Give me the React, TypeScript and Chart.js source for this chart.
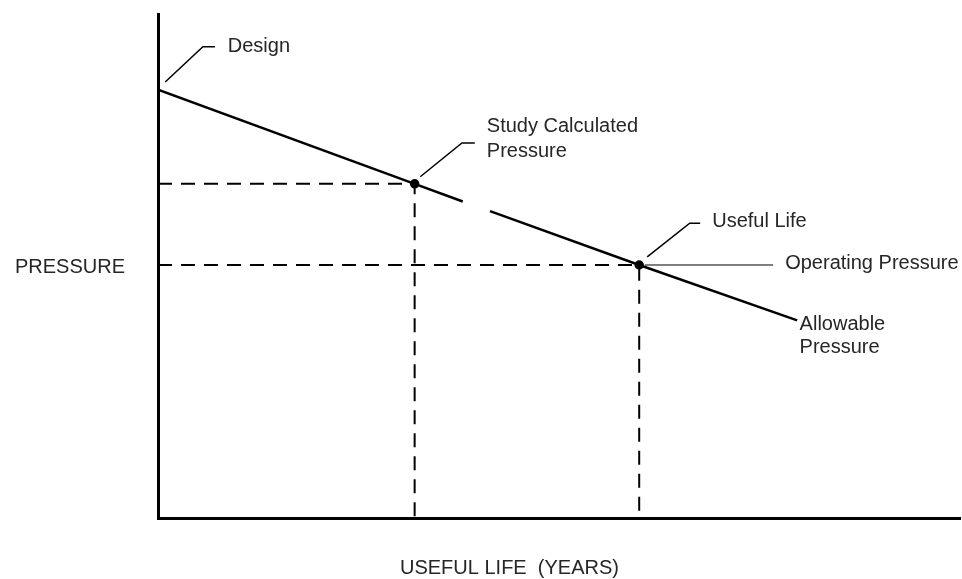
import { useEffect, useRef } from "react";
import { Chart, registerables } from "chart.js";

Chart.register(...registerables);

// Allowable pressure line (years, pressure) — null marks the break seen in the original
const allowableYears = [0, 32, 38, 38, 41.4, 60, 79.7];
const allowablePressure = [85, 66.3, 62.8, null, 60.9, 50.2, 39.2];
const markerRadius = [0, 3.5, 0, 0, 0, 3.5, 0];

// Dashed guides
const studyGuideYears = [0, 32, 32];
const studyGuidePressure = [66.3, 66.3, 0];
const usefulGuideYears = [0, 60, 60];
const usefulGuidePressure = [50.2, 50.2, 0];

// Leader lines
const designLeaderYears = [0.9, 5.6, 7.1];
const designLeaderPressure = [86.5, 93.5, 93.5];
const studyLeaderYears = [32.7, 37.9, 39.5];
const studyLeaderPressure = [67.7, 74.4, 74.4];
const usefulLeaderYears = [61.0, 66.3, 67.6];
const usefulLeaderPressure = [51.8, 58.5, 58.5];
const operatingLeaderYears = [60.7, 76.7];
const operatingLeaderPressure = [50.2, 50.2];

// Annotation texts
const labelTexts = ["Design", "Study Calculated", "Pressure", "Useful Life", "Operating Pressure", "Allowable", "Pressure"];
const labelYears = [8.7, 41.0, 41.0, 69.1, 78.2, 80.0, 80.0];
const labelPressure = [93.5, 77.6, 72.8, 58.9, 50.4, 38.3, 33.9];

const yAxisTitle = "PRESSURE";
const xAxisTitle = "USEFUL LIFE  (YEARS)";

const pts = (xs: number[], ys: (number | null)[]) => xs.map((x, i) => ({ x, y: ys[i] }));

export default function App() {
  const ref = useRef<HTMLCanvasElement>(null);
  useEffect(() => {
    document.body.style.margin = "0";
    const font = "20px 'Liberation Sans', Arial, sans-serif";
    const textColor = "#262626";
    const labelsPlugin = {
      id: "labels",
      afterDatasetsDraw(chart: any) {
        const { ctx, chartArea, scales } = chart;
        ctx.save();
        ctx.font = font;
        ctx.fillStyle = textColor;
        ctx.textAlign = "left";
        ctx.textBaseline = "middle";
        labelTexts.forEach((t, i) => {
          ctx.fillText(t, scales.x.getPixelForValue(labelYears[i]), scales.y.getPixelForValue(labelPressure[i]));
        });
        ctx.fillText(yAxisTitle, 15, (chartArea.top + chartArea.bottom) / 2 + 1);
        ctx.fillText(xAxisTitle, chartArea.left + 242, chartArea.bottom + 50);
        ctx.restore();
      },
    };
    const line = (data: any, extra: any = {}) => ({
      data,
      showLine: true,
      borderColor: "#000",
      backgroundColor: "#000",
      pointRadius: 0,
      spanGaps: false,
      ...extra,
    });
    const chart = new Chart(ref.current!, {
      type: "scatter",
      data: {
        datasets: [
          line(pts(allowableYears, allowablePressure), { borderWidth: 2.5, pointRadius: markerRadius }),
          line(pts(studyGuideYears, studyGuidePressure), { borderWidth: 2, borderDash: [14, 9] }),
          line(pts(usefulGuideYears, usefulGuidePressure), { borderWidth: 2, borderDash: [14, 9] }),
          line(pts(designLeaderYears, designLeaderPressure), { borderWidth: 1.5 }),
          line(pts(studyLeaderYears, studyLeaderPressure), { borderWidth: 1.5 }),
          line(pts(usefulLeaderYears, usefulLeaderPressure), { borderWidth: 1.5 }),
          line(pts(operatingLeaderYears, operatingLeaderPressure), { borderWidth: 1 }),
        ],
      },
      options: {
        responsive: false,
        animation: false,
        layout: { padding: { left: 150, top: 14, right: 2, bottom: 53 } },
        plugins: { legend: { display: false }, tooltip: { enabled: false } },
        scales: {
          x: {
            type: "linear",
            min: 0,
            max: 100,
            ticks: { display: false },
            grid: { display: false },
            border: { display: true, color: "#000", width: 3 },
          },
          y: {
            type: "linear",
            min: 0,
            max: 100,
            ticks: { display: false },
            grid: { display: false },
            border: { display: true, color: "#000", width: 3 },
          },
        },
      },
      plugins: [labelsPlugin],
    });
    return () => chart.destroy();
  }, []);
  return (
    <div style={{ position: "absolute", left: 0, top: 0, width: 962, height: 579, background: "#fff" }}>
      <canvas ref={ref} width={962} height={579} />
    </div>
  );
}
